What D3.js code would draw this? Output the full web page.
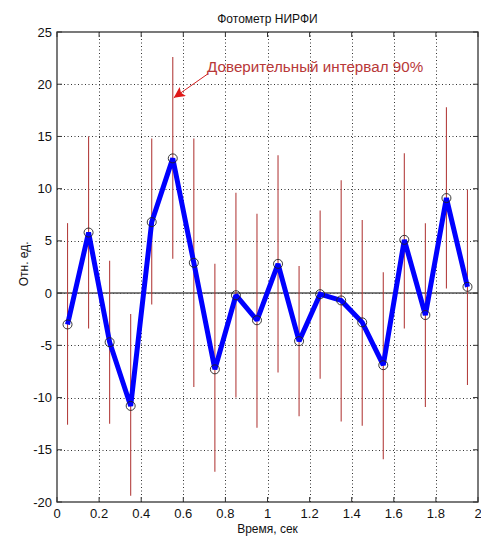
<!DOCTYPE html>
<html>
<head>
<meta charset="utf-8">
<script src="https://cdn.jsdelivr.net/npm/d3@7"></script>
<style>
  html, body { margin: 0; padding: 0; background: #fff; }
  svg { display: block; font-family: "Liberation Sans", Arial, sans-serif; }
</style>
</head>
<body>
<svg id="chart" width="481" height="537"></svg>
<script>
// Photometer samples: time (s), measured value, 90% confidence bounds
const times  = [0.05, 0.15, 0.25, 0.35, 0.45, 0.55, 0.65, 0.75, 0.85, 0.95,
                1.05, 1.15, 1.25, 1.35, 1.45, 1.55, 1.65, 1.75, 1.85, 1.95];
const values = [-3.0, 5.8, -4.7, -10.8, 6.8, 12.9, 2.9, -7.3, -0.2, -2.6,
                2.8, -4.6, -0.1, -0.7, -2.8, -6.9, 5.1, -2.1, 9.1, 0.6];
const upper  = [6.7, 15.0, 3.1, -2.0, 14.8, 22.6, 14.8, 2.8, 9.6, 7.6,
                13.2, 2.6, 7.9, 10.8, 7.0, 2.0, 13.4, 6.7, 17.8, 9.9];
const lower  = [-12.6, -3.4, -12.5, -19.4, -1.1, 3.3, -9.0, -17.1, -10.0, -12.9,
                -7.6, -11.8, -8.2, -12.3, -12.7, -15.9, -3.4, -10.9, 0.45, -8.8];

const xTicks = [0, 0.2, 0.4, 0.6, 0.8, 1, 1.2, 1.4, 1.6, 1.8, 2];
const yTicks = [-20, -15, -10, -5, 0, 5, 10, 15, 20, 25];

const titleText  = "Фотометр НИРФИ";
const xLabelText = "Время, сек";
const yLabelText = "Отн. ед.";
const noteText   = "Доверительный интервал 90%";
const notePoint  = { x: 0.55, y: 18.7 };   // arrow tip, on the 0.55 s interval
const noteAnchor = { x: 0.713, y: 21.2 };  // text start

const svg = d3.select("#chart");
const W = 481, H = 537;
const m = { left: 57, top: 32, right: 3, bottom: 35 };
const iw = W - m.left - m.right, ih = H - m.top - m.bottom;

const x = d3.scaleLinear().domain([0, 2]).range([m.left, m.left + iw]);
const y = d3.scaleLinear().domain([-20, 25]).range([m.top + ih, m.top]);

const g = svg.append("g");

// dotted grid
const gridColor = "#333";
g.append("g").selectAll("line").data(xTicks.slice(1, -1)).join("line")
  .attr("x1", d => Math.round(x(d)) + 0.5).attr("x2", d => Math.round(x(d)) + 0.5)
  .attr("y1", m.top).attr("y2", m.top + ih)
  .attr("stroke", gridColor).attr("stroke-width", 1).attr("stroke-dasharray", "1,2.5");
g.append("g").selectAll("line").data(yTicks.slice(1, -1)).join("line")
  .attr("y1", d => Math.round(y(d)) + 0.5).attr("y2", d => Math.round(y(d)) + 0.5)
  .attr("x1", m.left).attr("x2", m.left + iw)
  .attr("stroke", gridColor).attr("stroke-width", 1).attr("stroke-dasharray", "1,2.5");

// zero reference line
g.append("line")
  .attr("x1", m.left).attr("x2", m.left + iw)
  .attr("y1", y(0)).attr("y2", y(0))
  .attr("stroke", "#555").attr("stroke-width", 1.5);

// confidence interval bars
g.append("g").selectAll("line").data(times).join("line")
  .attr("x1", d => x(d)).attr("x2", d => x(d))
  .attr("y1", (d, i) => y(upper[i])).attr("y2", (d, i) => y(lower[i]))
  .attr("stroke", "#b4403f").attr("stroke-width", 1.1);

// measured series
const line = d3.line().x((d, i) => x(times[i])).y(d => y(d));
g.append("path").datum(values)
  .attr("d", line)
  .attr("fill", "none")
  .attr("stroke", "#0000ff")
  .attr("stroke-width", 5)
  .attr("stroke-linejoin", "miter")
  .attr("stroke-miterlimit", 1.5);

g.append("g").selectAll("circle").data(values).join("circle")
  .attr("cx", (d, i) => x(times[i])).attr("cy", d => y(d))
  .attr("r", 4.5)
  .attr("fill", "none").attr("stroke", "#222").attr("stroke-width", 0.9);

// axes box
const axisColor = "#333";
g.append("rect")
  .attr("x", m.left).attr("y", m.top).attr("width", iw).attr("height", ih)
  .attr("fill", "none").attr("stroke", axisColor).attr("stroke-width", 1.3);

// inward ticks on all four sides
const tl = 5;
const ax = g.append("g").attr("stroke", axisColor).attr("stroke-width", 1);
ax.selectAll(".xb").data(xTicks).join("line")
  .attr("x1", d => x(d)).attr("x2", d => x(d))
  .attr("y1", m.top + ih).attr("y2", m.top + ih - tl);
ax.selectAll(".xt").data(xTicks).join("line")
  .attr("x1", d => x(d)).attr("x2", d => x(d))
  .attr("y1", m.top).attr("y2", m.top + tl);
ax.selectAll(".yl").data(yTicks).join("line")
  .attr("y1", d => y(d)).attr("y2", d => y(d))
  .attr("x1", m.left).attr("x2", m.left + tl);
ax.selectAll(".yr").data(yTicks).join("line")
  .attr("y1", d => y(d)).attr("y2", d => y(d))
  .attr("x1", m.left + iw).attr("x2", m.left + iw - tl);

// tick labels
const fmt = d => String(d);
g.append("g").selectAll("text").data(xTicks).join("text")
  .attr("x", d => x(d)).attr("y", m.top + ih + 16)
  .attr("text-anchor", "middle")
  .attr("font-size", 13).attr("fill", "#111")
  .text(fmt);
g.append("g").selectAll("text").data(yTicks).join("text")
  .attr("x", m.left - 5).attr("y", d => y(d) + 4.5)
  .attr("text-anchor", "end")
  .attr("font-size", 13).attr("fill", "#111")
  .text(fmt);

// titles
svg.append("text")
  .attr("x", m.left + iw / 2).attr("y", 23)
  .attr("text-anchor", "middle").attr("font-size", 12).attr("fill", "#111")
  .text(titleText);
svg.append("text")
  .attr("x", m.left + iw / 2).attr("y", 533)
  .attr("text-anchor", "middle").attr("font-size", 12).attr("fill", "#111")
  .text(xLabelText);
svg.append("text")
  .attr("transform", `translate(28, ${y(2.8)}) rotate(-90)`)
  .attr("text-anchor", "middle").attr("font-size", 12).attr("fill", "#111")
  .text(yLabelText);

// annotation with arrow
const defs = svg.append("defs");
defs.append("marker")
  .attr("id", "arrowhead")
  .attr("viewBox", "0 0 10 10")
  .attr("refX", 10).attr("refY", 5)
  .attr("markerWidth", 16).attr("markerHeight", 11)
  .attr("markerUnits", "userSpaceOnUse")
  .attr("orient", "auto")
  .append("path").attr("d", "M0,0 L10,5 L0,10 L2,5 Z").attr("fill", "#e01818");

svg.append("line")
  .attr("x1", x(noteAnchor.x) + 1).attr("y1", y(noteAnchor.y) + 2)
  .attr("x2", x(notePoint.x) + 1).attr("y2", y(notePoint.y))
  .attr("stroke", "#d42020").attr("stroke-width", 1)
  .attr("marker-end", "url(#arrowhead)");

svg.append("text")
  .attr("x", x(noteAnchor.x)).attr("y", y(noteAnchor.y))
  .attr("font-size", 15.2).attr("fill", "#b83838")
  .text(noteText);
</script>
</body>
</html>
